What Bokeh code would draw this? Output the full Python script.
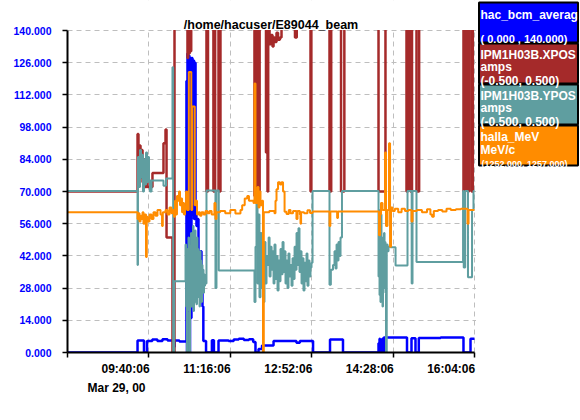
from bokeh.plotting import figure
from bokeh.models import Range1d, FixedTicker, PrintfTickFormatter, Label, Title
from bokeh.embed import file_html
from bokeh.resources import INLINE

# time in minutes since Mar 29, 00 08:04:06 ; values in displayed scale (0..140)
x_tick_minutes = [0, 96, 192, 288, 384, 480]
x_tick_labels = ["", "09:40:06", "11:16:06", "12:52:06", "14:28:06", "16:04:06"]
date_label = "Mar 29, 00"
y_ticks = [0, 14, 28, 42, 56, 70, 84, 98, 112, 126, 140]
title_text = "/home/hacuser/E89044_beam"

bcm = [(0, 0), (82.6, 5.2), (90.2, 0), (93.8, 5.0), (100, 5.6), (106, 5.0), (112, 5.8), (118, 5.2),
       (125, 2.5), (126.5, 5.2), (132, 4.8), (140.3, 118), (140.9, 0), (141.5, 130), (142.3, 2),
       (143.0, 129), (143.9, 0), (144.5, 127), (145.4, 15), (146.2, 128), (147.4, 60), (148.2, 127),
       (149.2, 58), (150.1, 126), (151.0, 62), (152.1, 55), (153.3, 58), (154.5, 40), (155.7, 30),
       (156.9, 44), (158.0, 28), (159.2, 20), (160.2, 5.0), (163.4, 0), (170.3, 5.3), (172.7, 0),
       (178.1, 5.2), (190, 5.0), (196, 5.6), (202, 6.0), (208, 5.4), (214, 5.8), (219, 4.6),
       (221.7, 0), (225.3, 1.5), (229.4, 3.0), (243, 5.0), (270, 4.2), (274, 5.0), (289.6, 0),
       (309.6, 5.6), (324.9, 0), (366.8, 4), (367.4, 0), (368.0, 6), (368.6, 0), (369.5, 5),
       (370.3, 0), (371.2, 6), (372.1, 0), (373.0, 6.5), (400.4, 0), (405.7, 6.2), (410.4, 0),
       (414.3, 6.3), (440, 6.5), (467.0, 0), (475.3, 6.0), (480, 6.0)]

xpos = [(0, 70), (82.6, 95), (83.7, 78), (84.9, 90), (86.1, 76), (87.3, 88), (88.5, 74), (89.6, 84),
        (90.8, 72), (93.2, 82), (94.4, 72), (100.2, 78), (113.2, 91), (115.6, 97), (116.8, 50),
        (123.8, -20), (126.2, 150), (141.5, 128), (142.3, 150), (143.3, 130), (144.1, 150),
        (145.1, 131), (145.9, 150), (163.9, 70), (165.7, 150), (172.1, 70), (174.1, 150),
        (178.1, 70), (180.4, 150), (220.5, 68), (221.4, 150), (223.5, 68), (224.4, 150),
        (225.9, 68), (226.6, 150), (234.1, 87), (235.0, 150), (235.9, 70), (236.7, 150),
        (238.3, 134), (240.0, 138), (241.8, 133), (243.0, 137), (244.5, 135), (246.5, 139),
        (248.3, 136), (250.5, 137), (252.4, 150), (268.3, 137), (270.4, 150), (286.6, 70),
        (287.6, 150), (309.0, 70), (311.0, 150), (322.6, 70), (326.5, 150), (366.8, 70),
        (375.0, 150), (399.8, 70), (401.6, 150), (404.4, 70), (406.3, 150), (411.6, 70),
        (414.7, 150), (467.0, 70), (469.4, 150), (471.8, 70), (473.5, 150), (476.5, 70), (478.0, 150)]

ypos = [(0, 70.2), (82.6, 38), (83.1, 85), (84.3, 72), (85.5, 88), (86.7, 76), (87.9, 86), (89.0, 70),
        (90.2, 84), (91.4, 73), (92.6, 87), (93.8, 74), (95.0, 85), (96.1, 75), (97.3, 70), (99.1, 74.8),
        (113.2, 72.5), (116.2, 75.6), (123.8, 124), (124.6, 0), (125.8, 31),
        (139.2, 47), (139.8, 20), (140.3, 45), (140.9, 0), (141.5, 40), (142.1, 22), (142.7, 50),
        (143.3, 18), (143.9, 0), (144.5, 46), (145.1, 24), (145.7, 52), (146.2, 20), (146.8, 48),
        (147.4, 25), (148.0, 55), (148.6, 18), (149.2, 50), (149.8, 22), (150.4, 53), (151.0, 28),
        (151.6, 47), (152.1, 21), (152.7, 50), (153.3, 27), (153.9, 45), (154.5, 24), (155.1, 42),
        (155.7, 20), (156.3, 44), (156.9, 26), (157.4, 40), (158.0, 22), (158.6, 38), (159.2, 28),
        (159.8, 36), (160.4, 26), (161.0, 34), (161.6, 29), (162.2, 30),
        (163.9, 70.4), (174.5, 28), (175.7, 70.4), (178.4, 35.6),
        (220.5, 22), (221.7, 46), (222.9, 70.2), (224.1, 30), (225.3, 60), (226.4, 24), (227.6, 52),
        (228.8, 28), (230.0, 45), (231.2, 22), (232.3, 48), (233.5, 30), (234.7, 42),
        (236.0, 38), (237.2, 50), (238.3, 33), (239.5, 46), (240.7, 36), (241.8, 44), (243.0, 30),
        (244.1, 47), (245.3, 32), (246.5, 42), (247.7, 27), (248.9, 40), (250.0, 31), (251.2, 45),
        (252.4, 34), (253.6, 48), (254.8, 35), (256.0, 44), (257.1, 30), (258.3, 40), (259.5, 28),
        (260.6, 43), (261.8, 33), (263.0, 38), (264.2, 29), (265.4, 41), (266.6, 32), (267.8, 46),
        (268.9, 36), (270.1, 52), (271.3, 38), (272.4, 54), (273.6, 35), (274.8, 44), (276.0, 30),
        (277.1, 41), (278.3, 27), (279.5, 39), (280.7, 31), (281.9, 43), (283.0, 29), (284.2, 40),
        (285.4, 33), (286.6, 37), (287.8, 39),
        (289.0, 70.2), (309.0, 29.5), (310.6, 36), (313.1, 38), (314.9, 44), (316.1, 36.5),
        (317.3, 47), (318.4, 40), (319.6, 48), (320.8, 42), (322.0, 50), (323.7, 70.2),
        (366.8, 33), (367.4, 62), (368.0, 25), (368.6, 55), (369.1, 22), (369.7, 60), (370.3, 30),
        (370.9, 50), (371.5, 20), (372.1, 45), (372.7, 28), (373.3, 52), (373.9, 35), (374.5, 48),
        (375.0, 26), (375.6, 0), (376.5, 47), (377.4, 44), (378.6, 46), (380.9, 45.8), (386.9, 37.8),
        (401.0, 70.2), (405.9, 30), (406.9, 70.2), (411.6, 39.3), (466.5, 70.2), (467.3, 37),
        (469.0, 70.2), (472.3, 32.7), (477.1, 62), (478.8, 70.2), (480, 70.2)]

mev = [(0, 61), (82.6, 58), (83.7, 60.5), (84.9, 57), (86.1, 59.5), (87.3, 58), (88.5, 61), (89.6, 56),
       (90.8, 60), (92.6, 41.5), (93.5, 59), (94.4, 57), (96.7, 60), (99.1, 58), (101.4, 61),
       (103.8, 59.5), (106.1, 62), (109.7, 60), (111.5, 55), (112.4, 61), (115.6, 62), (117.9, 60),
       (120.3, 63), (122.6, 60.5), (124.4, 62), (125.6, 59), (126.8, 66), (128.0, 60), (129.1, 68),
       (130.3, 66), (131.5, 70), (132.7, 64), (133.9, 67), (135.1, 61), (136.2, 65), (137.4, 60),
       (138.6, 63), (139.8, 70), (141.0, 62), (143.1, 122), (146.0, 62), (147.1, 107), (150.1, 64),
       (151.0, 66), (152.7, 60), (154.5, 61), (156.3, 59.5), (158.0, 61), (160.4, 60), (162.8, 61.5),
       (165.1, 60.5), (167.5, 61.5), (170.0, 60), (173.3, 65), (174.5, 58), (175.7, 61), (180.0, 61.5),
       (186, 60.5), (192, 62), (198, 60.4), (204, 62), (206, 64), (209, 67), (212, 68), (214, 66),
       (217, 66), (219.4, 65), (220.5, 117), (221.7, 65), (224.1, 72), (225.3, 63), (226.4, 70),
       (227.6, 64), (229.4, 66), (230.6, 0), (231.5, 61), (238.0, 61.5), (244.1, 60.5), (245.3, 66),
       (246.5, 71), (248.3, 74), (250.6, 73), (252.4, 74), (254.2, 70), (256.0, 61.2), (258.3, 60.2),
       (261.0, 62), (263.0, 60.5), (266.0, 61.5), (270.0, 58), (271.3, 61.5), (274.0, 60), (274.8, 56),
       (275.5, 61), (279.0, 60.5), (283.0, 61.8), (286.0, 60.6), (289.0, 61.3), (309.0, 55),
       (310.0, 61.3), (318.0, 58.5), (319.0, 61.3), (366.8, 61.3), (367.4, 51), (368.6, 60),
       (369.7, 65), (371.5, 62), (374.5, 87), (375.6, 55), (377.4, 62), (379.2, 91), (380.4, 46),
       (381.5, 63), (383.3, 61.5), (386.0, 62.5), (390.0, 61), (394.0, 62.5), (398.0, 61.5),
       (402.0, 62), (405.7, 57), (406.9, 61.5), (412.0, 62), (418.0, 61), (424.0, 62.3), (428.0, 60),
       (430.0, 59), (432.0, 61.5), (437.0, 62), (442.0, 61.3), (447.0, 62.5), (452.0, 62),
       (458.0, 62.3), (464.0, 62.5), (471.8, 56), (473.0, 62), (480, 62)]

legend_names = ["hac_bcm_averag", "IPM1H03B.XPOS", "IPM1H03B.YPOS", "halla_MeV"]
legend_units = ["", "amps", "amps", "MeV/c"]
legend_ranges = ["( 0.000 , 140.000)", "(-0.500,  0.500)", "(-0.500,  0.500)", "(1252.000, 1257.000)"]
colors = ["#0000FF", "#A52A2A", "#5F9EA0", "#FF8C00"]

FONT = "'Liberation Sans', Arial, sans-serif"

# ---- layout geometry (pixels) ----
W, H = 580, 404
FL, FB = 67, 352            # where t=0 and value=0 sit
FR_DATA, FT_DATA = 474, 30  # where t=480 and value=140 sit
PXM = (FR_DATA - FL) / 480.0
PXV = (FB - FT_DATA) / 140.0

def X(px):
    return (px - FL) / PXM

def Y(py):
    return (FB - py) / PXV

p = figure(width=W, height=H, x_range=Range1d(0, X(W)), y_range=Range1d(0, Y(0)),
           output_backend="svg", toolbar_location=None, title=None,
           min_border_left=FL, min_border_right=0, min_border_top=0, min_border_bottom=H - FB)
p.outline_line_color = None

for series, col, lw in zip([bcm, xpos, ypos, mev], colors, [2.5, 2.5, 2, 2]):
    ts = [a for a, b in series]
    vs = [b for a, b in series]
    p.step(ts, vs, mode="after", line_color=col, line_width=lw)

# masks emulating the clip of the plotting area (top and right of it)
p.quad(left=X(FL - 2), right=X(FR_DATA + 1.5), bottom=Y(FT_DATA - 0.6), top=Y(-2),
       fill_color="white", line_color=None)
p.quad(left=X(FR_DATA + 1.5), right=X(W + 2), bottom=Y(H), top=Y(-2),
       fill_color="white", line_color=None)

# right-aligned tick labels: pad each label with an equal-width blank tail
def pad(s):
    return s + "".join("\u2007" if ch.isdigit() else "\u2008" for ch in s) if s else ""

p.xaxis.ticker = FixedTicker(ticks=x_tick_minutes)
p.xaxis.bounds = (x_tick_minutes[0], x_tick_minutes[-1])
p.xaxis.major_label_overrides = {t: pad(l) for t, l in zip(x_tick_minutes, x_tick_labels)}
p.xaxis.major_label_text_font = FONT
p.xaxis.major_label_text_font_style = "bold"
p.xaxis.major_label_text_font_size = "12px"
p.xaxis.major_label_text_color = "black"
p.xaxis.major_label_standoff = 4
p.xaxis.major_tick_out = 5
p.xaxis.major_tick_in = 0
p.xaxis.axis_line_width = 2
p.xaxis.major_tick_line_width = 1.5

p.yaxis.ticker = FixedTicker(ticks=y_ticks)
p.yaxis.bounds = (y_ticks[0], y_ticks[-1])
p.yaxis.formatter = PrintfTickFormatter(format="%.3f")
p.yaxis.major_label_text_color = "#0000FF"
p.yaxis.major_label_text_font = FONT
p.yaxis.major_label_text_font_style = "bold"
p.yaxis.major_label_text_font_size = "10.5px"
p.yaxis.major_label_standoff = 11
p.yaxis.major_tick_out = 5
p.yaxis.major_tick_in = 0
p.yaxis.axis_line_width = 2
p.yaxis.major_tick_line_width = 1.5

for g in (p.xgrid, p.ygrid):
    g.grid_line_color = "#BEBEBE"
    g.grid_line_dash = "5 4"
    g.grid_line_width = 1

p.add_layout(Label(x=X(270.5), y=Y(24), text=title_text, text_align="center",
                   text_baseline="alphabetic", text_font=FONT, text_font_style="bold",
                   text_font_size="12.5px", text_color="black"))

date_title = Title(text=date_label, align="left", offset=20, standoff=0, text_font=FONT,
                   text_font_style="bold", text_font_size="12px", text_color="black")
p.add_layout(date_title, "below")

# legend boxes in the right part of the canvas
box_top = [2, 43, 84, 125]
box_bot = [42, 83, 124, 165]
p.quad(left=X(478.5), right=X(577.5), top=[Y(v) for v in box_top], bottom=[Y(v) for v in box_bot],
       fill_color=colors, line_color="black", line_width=2)

def lab(px, py, text, size):
    p.add_layout(Label(x=X(px), y=Y(py), text=text, text_align="left", text_baseline="alphabetic",
                       text_font=FONT, text_font_style="bold", text_font_size=size,
                       text_color="white"))

lab(480, 14, legend_names[0], "12px")
lab(480, 38, legend_ranges[0], "11px")
for i in (1, 2):
    off = box_top[i]
    lab(480, off + 11, legend_names[i], "12px")
    lab(480, off + 23, legend_units[i], "12px")
    lab(480, off + 37.5, legend_ranges[i], "12px")
lab(480, 136.5, legend_names[3], "12px")
lab(480, 149.5, legend_units[3], "12px")
lab(481, 163, legend_ranges[3], "9px")

open("out.html", "w").write(file_html(p, INLINE))
